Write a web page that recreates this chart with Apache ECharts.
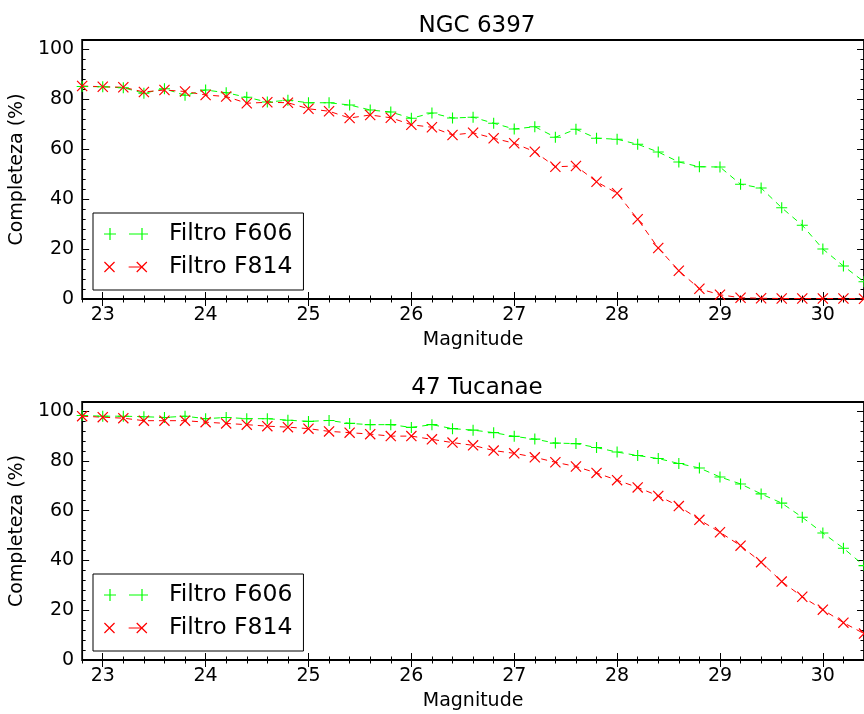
<!DOCTYPE html>
<html>
<head>
<meta charset="utf-8">
<script src="https://cdn.jsdelivr.net/npm/echarts@6/dist/echarts.min.js"></script>
<style>
html,body{margin:0;padding:0;background:#fff;}
#chart{width:864px;height:714px;}
</style>
</head>
<body>
<div id="chart"></div>
<script>
// ---------- data ----------
var magnitudes = [22.8, 23.0, 23.2, 23.4, 23.6, 23.8, 24.0, 24.2, 24.4, 24.6, 24.8, 25.0, 25.2, 25.4, 25.6, 25.8, 26.0, 26.2, 26.4, 26.6, 26.8, 27.0, 27.2, 27.4, 27.6, 27.8, 28.0, 28.2, 28.4, 28.6, 28.8, 29.0, 29.2, 29.4, 29.6, 29.8, 30.0, 30.2, 30.4];

var ngcF606 = [85.0, 84.9, 84.5, 82.3, 84.1, 81.5, 83.6, 82.5, 80.7, 78.8, 79.5, 78.5, 78.5, 77.6, 75.6, 74.8, 72.3, 74.4, 72.4, 72.7, 70.3, 68.0, 68.9, 64.7, 67.9, 64.3, 63.9, 61.9, 58.8, 54.8, 52.9, 52.8, 45.9, 44.4, 36.5, 29.5, 20.0, 13.2, 6.9];
var ngcF814 = [85.2, 84.9, 84.7, 82.8, 83.6, 83.0, 81.6, 81.0, 78.3, 78.7, 78.5, 76.1, 75.1, 72.4, 73.6, 72.5, 69.7, 68.7, 65.6, 66.5, 64.3, 62.3, 58.9, 52.9, 53.2, 46.9, 42.3, 31.9, 20.4, 11.3, 4.1, 1.7, 0.5, 0.3, 0.2, 0.2, 0.2, 0.2, 0.1];

var tucF606 = [98.2, 97.9, 97.9, 97.7, 97.4, 97.9, 96.9, 97.4, 96.9, 96.9, 96.3, 95.8, 96.2, 95.0, 94.5, 94.5, 93.4, 94.5, 92.9, 92.3, 91.3, 89.8, 88.7, 87.1, 86.9, 85.3, 83.5, 82.1, 80.9, 78.9, 77.1, 73.5, 70.7, 66.7, 63.0, 57.3, 51.0, 44.9, 37.9];
var tucF814 = [97.9, 97.5, 97.1, 96.1, 96.1, 96.1, 95.5, 95.0, 94.5, 93.9, 93.5, 92.9, 91.8, 91.3, 90.7, 89.9, 89.9, 88.6, 87.3, 86.2, 84.1, 83.0, 81.4, 79.4, 77.7, 75.1, 72.2, 69.3, 65.9, 61.8, 56.3, 51.3, 45.9, 39.3, 31.5, 25.4, 20.2, 15.0, 10.6];

var titles = ['NGC 6397', '47 Tucanae'];
var seriesNames = ['Filtro F606', 'Filtro F814'];
var xTickLabels = [23, 24, 25, 26, 27, 28, 29, 30];
var yTickLabels = [0, 20, 40, 60, 80, 100];

// ---------- layout / style ----------
var FONT = 'DejaVu Sans';
var GREEN = '#00ff00';
var RED = '#ff0000';
var XMIN = 22.8, XMAX = 30.4, YMIN = 0, YMAX = 103.6;

var xMinor = [];
for (var k = 114; k <= 152; k++) { if (k % 5 !== 0) xMinor.push(k / 5); }
var yMinor = [];
for (var v = 4; v <= 100; v += 4) { if (v % 20 !== 0) yMinor.push(v); }

var plusPath = 'path://M0,5.4L12,5.4L12,6.6L0,6.6Z M5.4,0L6.6,0L6.6,12L5.4,12Z';
var crossPath = 'path://M0.58,1.42L10.58,11.42L11.42,10.58L1.42,0.58Z M1.42,11.42L11.42,1.42L10.58,0.58L0.58,10.58Z';

var plusIcon = 'path://M0,5.4L12,5.4L12,6.6L0,6.6Z M5.4,0L6.6,0L6.6,12L5.4,12Z ' +
  'M25,5.5L37,5.5L37,6.5L25,6.5Z ' +
  'M32,5.4L44,5.4L44,6.6L32,6.6Z M37.4,0L38.6,0L38.6,12L37.4,12Z M60,6L60,6.01L59.99,6Z';
var crossIcon = 'path://M0.58,1.42L10.58,11.42L11.42,10.58L1.42,0.58Z M1.42,11.42L11.42,1.42L10.58,0.58L0.58,10.58Z ' +
  'M25,5.5L37,5.5L37,6.5L25,6.5Z ' +
  'M32.58,1.42L42.58,11.42L43.42,10.58L33.42,0.58Z M33.42,11.42L43.42,1.42L42.58,0.58L32.58,10.58Z M60,6L60,6.01L59.99,6Z';

var grids = [
  {left: 81, top: 40, width: 785, height: 259},
  {left: 81, top: 402, width: 785, height: 258}
];

function xAxes(g) {
  function base(pos, major) {
    return {
      type: 'value', gridIndex: g, min: XMIN, max: XMAX, position: pos,
      axisLine: {show: false}, splitLine: {show: false},
      axisTick: {show: true, inside: true, length: major ? 7 : 3.5,
        customValues: major ? xTickLabels : xMinor,
        lineStyle: {color: '#000', width: 1}},
      axisLabel: {show: false}
    };
  }
  var main = base('bottom', true);
  main.axisLabel = {show: true, customValues: xTickLabels, margin: 7, fontSize: 19,
    color: '#000', fontFamily: FONT};
  main.name = 'Magnitude';
  main.nameLocation = 'middle';
  main.nameGap = 32;
  main.nameTextStyle = {fontSize: 19, color: '#000', fontFamily: FONT};
  return [main, base('bottom', false), base('top', true), base('top', false)];
}
function yAxes(g) {
  function base(pos, major) {
    return {
      type: 'value', gridIndex: g, min: YMIN, max: YMAX, position: pos,
      axisLine: {show: false}, splitLine: {show: false},
      axisTick: {show: true, inside: true, length: major ? 7 : 3.5,
        customValues: major ? yTickLabels : yMinor,
        lineStyle: {color: '#000', width: 1}},
      axisLabel: {show: false}
    };
  }
  var main = base('left', true);
  main.axisLabel = {show: true, customValues: yTickLabels, margin: 8, fontSize: 19,
    color: '#000', fontFamily: FONT};
  main.name = 'Completeza (%)';
  main.nameLocation = 'middle';
  main.nameGap = 44;
  main.nameRotate = 90;
  main.nameTextStyle = {fontSize: 19, color: '#000', fontFamily: FONT};
  return [main, base('left', false), base('right', true), base('right', false)];
}

function pairs(vals) {
  return magnitudes.map(function (m, i) { return [m, vals[i]]; });
}
function makeSeries(name, vals, g, color, symbol) {
  return {
    name: name, type: 'line', xAxisIndex: g * 4, yAxisIndex: g * 4,
    data: pairs(vals), symbol: symbol, symbolSize: 11, showSymbol: true,
    itemStyle: {color: color},
    lineStyle: {color: color, width: 1, type: [6, 5]},
    emphasis: {disabled: true}, animation: false, clip: true
  };
}
function makeLegend(top) {
  return {
    orient: 'vertical', left: 93, top: top,
    data: [{name: seriesNames[0], icon: plusIcon}, {name: seriesNames[1], icon: crossIcon}],
    itemWidth: 60, itemHeight: 12, itemGap: 9,
    padding: [9, 11, 11, 11],
    borderColor: '#000', borderWidth: 1, backgroundColor: '#fff',
    selectedMode: false,
    textStyle: {fontSize: 23.5, color: '#000', fontFamily: FONT}
  };
}

var option = {
  backgroundColor: '#fff',
  animation: false,
  textStyle: {fontFamily: FONT},
  title: [
    {text: titles[0], left: 472, top: 10, textAlign: 'center',
      textStyle: {fontSize: 23, fontWeight: 'normal', color: '#000', fontFamily: FONT}},
    {text: titles[1], left: 472, top: 372, textAlign: 'center',
      textStyle: {fontSize: 23, fontWeight: 'normal', color: '#000', fontFamily: FONT}}
  ],
  grid: grids.map(function (g) {
    return Object.assign({show: true, borderColor: '#000', borderWidth: 1.8,
      backgroundColor: 'transparent', containLabel: false}, g);
  }),
  legend: [makeLegend(213), makeLegend(574)],
  xAxis: xAxes(0).concat(xAxes(1)),
  yAxis: yAxes(0).concat(yAxes(1)),
  series: [
    makeSeries(seriesNames[0], ngcF606, 0, GREEN, plusPath),
    makeSeries(seriesNames[1], ngcF814, 0, RED, crossPath),
    makeSeries(seriesNames[0], tucF606, 1, GREEN, plusPath),
    makeSeries(seriesNames[1], tucF814, 1, RED, crossPath)
  ]
};

var chart = echarts.init(document.getElementById('chart'), null, {renderer: 'canvas'});
chart.setOption(option);
</script>
</body>
</html>
